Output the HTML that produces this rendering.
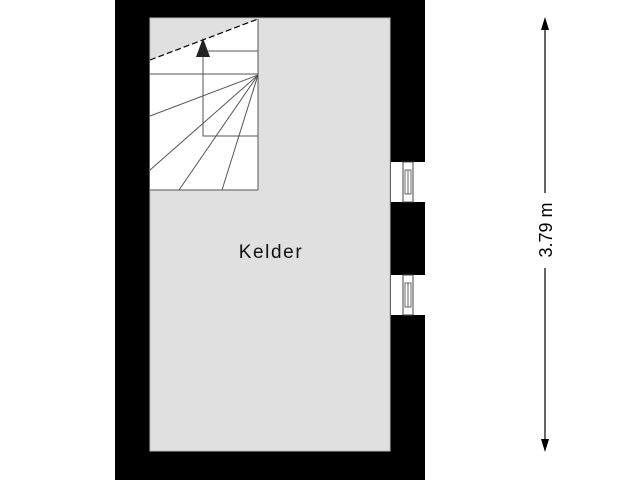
<!DOCTYPE html>
<html><head><meta charset="utf-8"><style>
html,body{margin:0;padding:0;background:#fff;}
svg{display:block;}
</style></head><body>
<svg width="640" height="480" viewBox="0 0 640 480" xmlns="http://www.w3.org/2000/svg">
<rect x="0" y="0" width="640" height="480" fill="#fff"/>
<rect x="115" y="0" width="310" height="480" fill="#000"/>
<rect x="150" y="18" width="240" height="433" fill="#e0e0e0" stroke="#bbb" stroke-width="1"/>
<g>
<rect x="391" y="162" width="34" height="40" fill="#fff"/>
<rect x="403" y="162" width="10" height="40" fill="#fff" stroke="#444" stroke-width="1"/>
<rect x="405" y="170" width="6" height="24" fill="none" stroke="#444" stroke-width="0.8"/>
<line x1="408" y1="170" x2="408" y2="194" stroke="#444" stroke-width="0.8"/>
<rect x="391" y="275" width="34" height="40" fill="#fff"/>
<rect x="403" y="275" width="10" height="40" fill="#fff" stroke="#444" stroke-width="1"/>
<rect x="405" y="283" width="6" height="24" fill="none" stroke="#444" stroke-width="0.8"/>
<line x1="408" y1="283" x2="408" y2="307" stroke="#444" stroke-width="0.8"/>
</g>
<polygon points="150,60 258,19 258,190 150,190" fill="#fff"/>
<line x1="150" y1="60" x2="258" y2="19" stroke="#000" stroke-width="1.2" stroke-dasharray="6,3"/>
<g stroke="#555" stroke-width="1" fill="none">
<line x1="258" y1="19" x2="258" y2="190"/>
<line x1="150" y1="190" x2="258" y2="190"/>
<line x1="203" y1="51" x2="258" y2="51"/>
<line x1="150" y1="74" x2="258" y2="74"/>
<line x1="258" y1="75" x2="150" y2="116"/>
<line x1="258" y1="75" x2="150" y2="170"/>
<line x1="258" y1="75" x2="179" y2="190"/>
<line x1="258" y1="75" x2="222" y2="190"/>
<polyline points="258,136 203,136 203,55"/>
</g>
<polygon points="203,38 196,57 210,57" fill="#222"/>
<text x="271" y="258" font-family="Liberation Sans, sans-serif" font-size="19" letter-spacing="1.6" text-anchor="middle" fill="#111">Kelder</text>
<g stroke="#000" stroke-width="1.2">
<line x1="545" y1="24" x2="545" y2="193"/>
<line x1="545" y1="268" x2="545" y2="445"/>
</g>
<polygon points="545,17 541,30 549,30" fill="#000"/>
<polygon points="545,452 541,439 549,439" fill="#000"/>
<text x="0" y="0" transform="translate(552,230) rotate(-90)" font-family="Liberation Sans, sans-serif" font-size="18" text-anchor="middle" fill="#000">3.79 m</text>
</svg>
</body></html>
